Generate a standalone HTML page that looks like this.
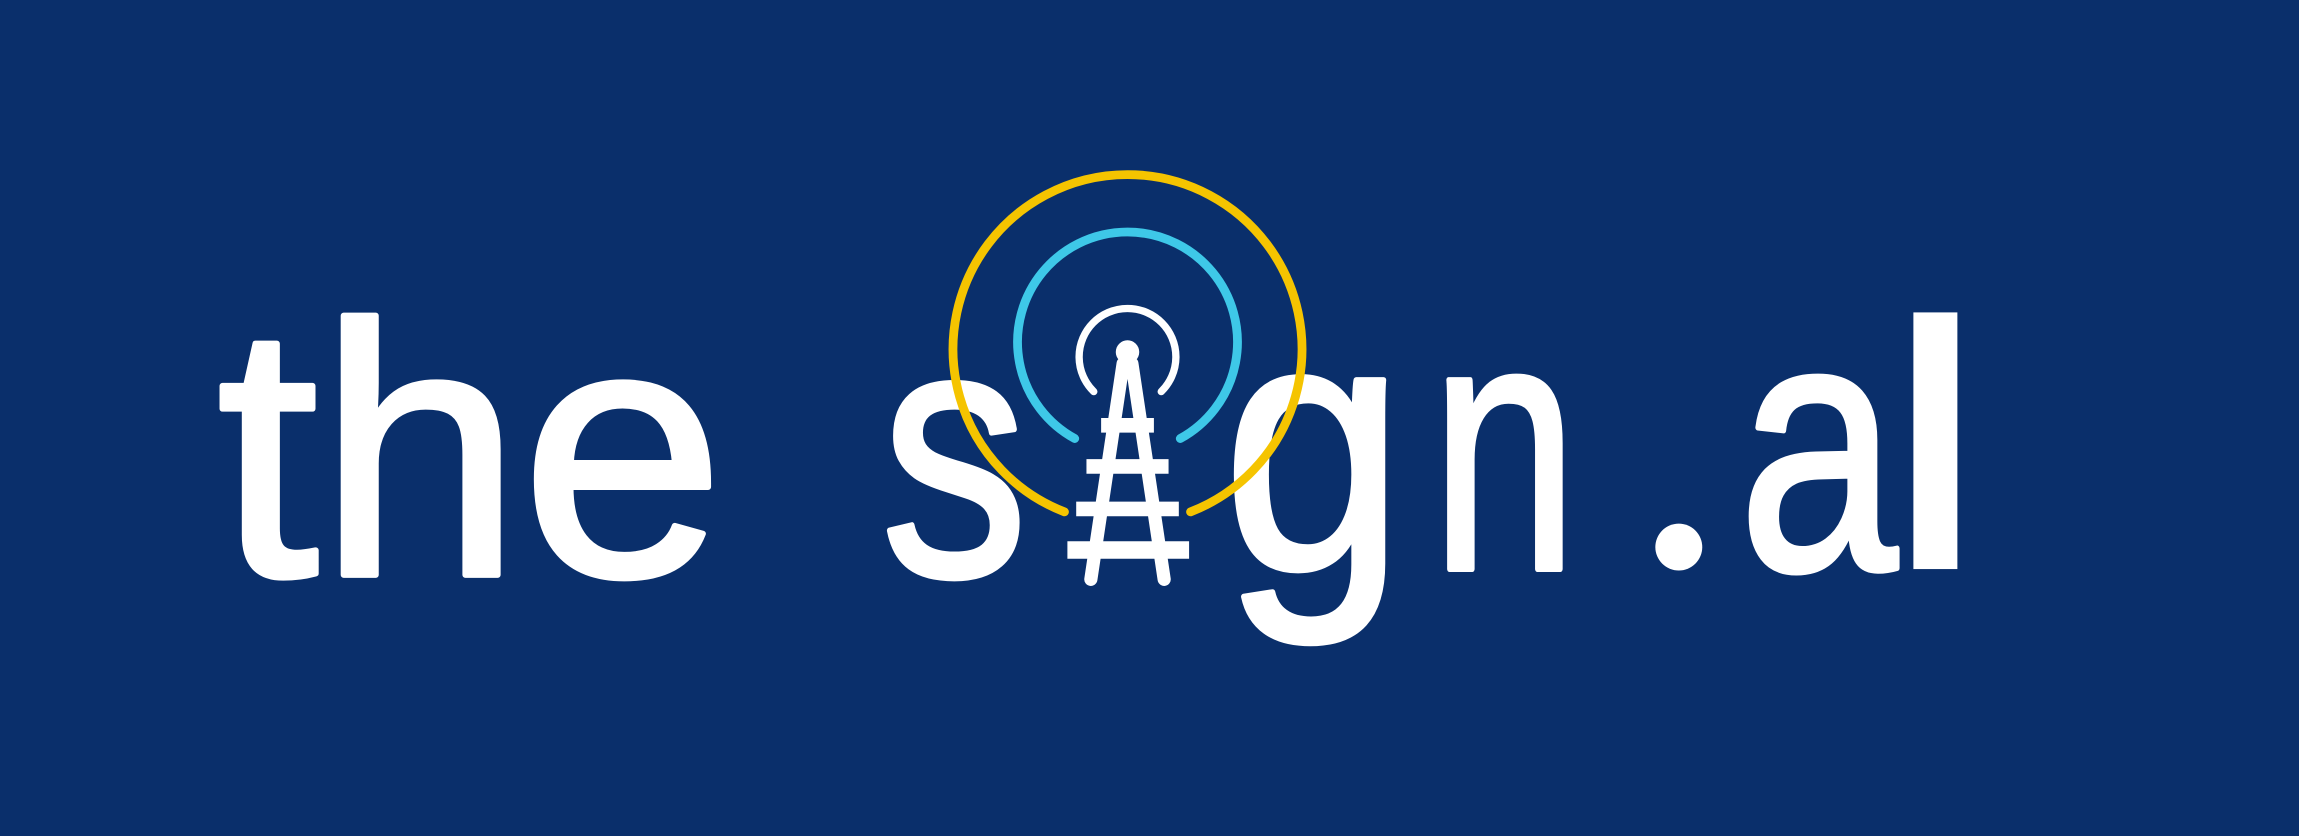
<!DOCTYPE html>
<html>
<head>
<meta charset="utf-8">
<style>
  html,body{margin:0;padding:0;background:#0a2f6b;}
  svg{display:block;}
  text{font-family:"Liberation Sans","DejaVu Sans",sans-serif;fill:#ffffff;stroke:#ffffff;stroke-width:4;stroke-linejoin:round;font-size:244px;}
</style>
</head>
<body>
<svg width="2299" height="836" viewBox="0 0 1568 570" preserveAspectRatio="none" xmlns="http://www.w3.org/2000/svg">
  <rect x="0" y="0" width="1568" height="570" fill="#0a2f6b"/>
  <g>
    <text x="148" y="392" textLength="346" lengthAdjust="spacingAndGlyphs">the</text>
    <text x="601" y="392" textLength="100" lengthAdjust="spacingAndGlyphs">s</text>
    <text x="834" y="388" textLength="124" lengthAdjust="spacingAndGlyphs">g</text>
    <text x="976" y="388" textLength="100" lengthAdjust="spacingAndGlyphs">n</text>
    <circle cx="1145" cy="373" r="16" fill="#ffffff"/>
    <text x="1186" y="388" textLength="108" lengthAdjust="spacingAndGlyphs">a</text>
    <rect x="1305" y="213" width="30" height="175" fill="#ffffff"/>
  </g>
  <g fill="none" stroke-linecap="round">
    <path d="M 726 349 A 119 119 0 1 1 812 349" stroke="#f5c400" stroke-width="6"/>
    <path d="M 733 299 A 75 75 0 1 1 805 299" stroke="#3ec8e8" stroke-width="6"/>
    <path d="M 746 267 A 33 33 0 1 1 792 267" stroke="#ffffff" stroke-width="5"/>
    <g stroke="#ffffff">
      <circle cx="769" cy="240" r="8" fill="#ffffff" stroke="none"/>
      <line x1="766" y1="248" x2="744" y2="395" stroke-width="9"/>
      <line x1="772" y1="248" x2="794" y2="395" stroke-width="9"/>
      <line x1="751" y1="290" x2="787" y2="290" stroke-width="10" stroke-linecap="butt"/>
      <line x1="741" y1="318" x2="797" y2="318" stroke-width="10" stroke-linecap="butt"/>
      <line x1="734" y1="347" x2="804" y2="347" stroke-width="10" stroke-linecap="butt"/>
      <line x1="728" y1="375" x2="811" y2="375" stroke-width="12" stroke-linecap="butt"/>
    </g>
  </g>
</svg>
</body>
</html>
